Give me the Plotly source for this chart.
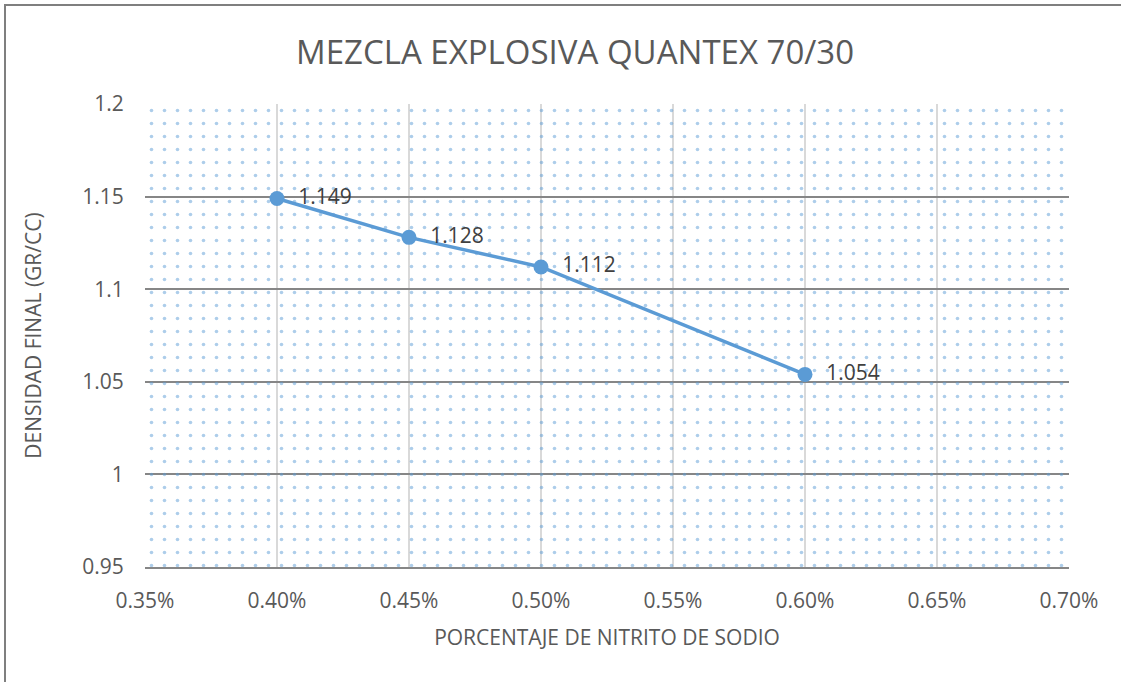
import plotly.graph_objects as go

# Data
nitrito = [0.0040, 0.0045, 0.0050, 0.0060]
densidad = [1.149, 1.128, 1.112, 1.054]
labels = ["1.149", "1.128", "1.112", "1.054"]

x_range = [0.0035, 0.0070]
y_range = [0.95, 1.20]
x_ticks = [0.0035, 0.0040, 0.0045, 0.0050, 0.0055, 0.0060, 0.0065, 0.0070]
y_ticks = [0.95, 1.0, 1.05, 1.1, 1.15, 1.2]
y_ticktext = ["0.95", "1", "1.05", "1.1", "1.15", "1.2"]

FONT = "Open Sans"
BLUE = "#5B9BD5"
TXT = "#595959"

W, H = 1121, 682
ML, MR, MT, MB = 145, 52, 104, 115
PW, PH = W - ML - MR, H - MT - MB

fig = go.Figure()

# dotted plot-area background
fig.add_trace(go.Scatter(
    x=[x_range[0], x_range[1], x_range[1], x_range[0], x_range[0]],
    y=[y_range[0], y_range[0], y_range[1], y_range[1], y_range[0]],
    mode="lines", fill="toself", line=dict(width=0),
    fillcolor="rgba(0,0,0,0)",
    fillpattern=dict(shape=".", fgcolor=BLUE, bgcolor="rgba(0,0,0,0)",
                     size=13, solidity=0.06, fillmode="overlay"),
    hoverinfo="skip", showlegend=False,
))

fig.add_trace(go.Scatter(
    x=nitrito, y=densidad, mode="lines+markers+text",
    text=labels, texttemplate="  %{text}", textposition="middle right",
    textfont=dict(family=FONT, size=21, color="#404040"),
    line=dict(color=BLUE, width=3.5),
    marker=dict(color=BLUE, size=15),
    showlegend=False,
))

fig.update_layout(
    width=W, height=H,
    paper_bgcolor="white", plot_bgcolor="white",
    margin=dict(l=ML, r=MR, t=MT, b=MB),
    title=dict(text="MEZCLA EXPLOSIVA QUANTEX 70/30", x=0.513, xanchor="center",
               y=1 - 52 / H, yanchor="middle",
               font=dict(family=FONT, size=33, color=TXT)),
    font=dict(family=FONT, color=TXT),
)

fig.update_xaxes(
    range=x_range, tickvals=x_ticks, tickformat=".2%",
    showgrid=True, gridcolor="#D9D9D9", gridwidth=2,
    zeroline=False, showline=True, linecolor="#868686", linewidth=2,
    ticks="outside", ticklen=14, tickcolor="rgba(0,0,0,0)",
    tickfont=dict(family=FONT, size=21, color=TXT),
    title=dict(text="PORCENTAJE DE NITRITO DE SODIO", standoff=17,
               font=dict(family=FONT, size=21, color=TXT)),
)
fig.update_yaxes(
    range=y_range, tickvals=y_ticks, ticktext=y_ticktext,
    showgrid=True, gridcolor="#868686", gridwidth=1.5,
    zeroline=False, showline=False,
    ticks="outside", ticklen=16, tickcolor="rgba(0,0,0,0)",
    tickfont=dict(family=FONT, size=21, color=TXT),
    title=dict(text="DENSIDAD FINAL (GR/CC)", standoff=34,
               font=dict(family=FONT, size=21, color=TXT)),
)

# outer chart border (extends past bottom/right edges like the reference)
fig.add_shape(type="rect", xref="paper", yref="paper",
              x0=(5 - ML) / PW, x1=1.3, y0=1 + (MT - 5) / PH, y1=-0.5,
              line=dict(color="#7F7F7F", width=2), fillcolor="rgba(0,0,0,0)",
              layer="below")

fig.write_html("out.html", config={"displayModeBar": False},
               post_script="document.body.style.margin='0';")
